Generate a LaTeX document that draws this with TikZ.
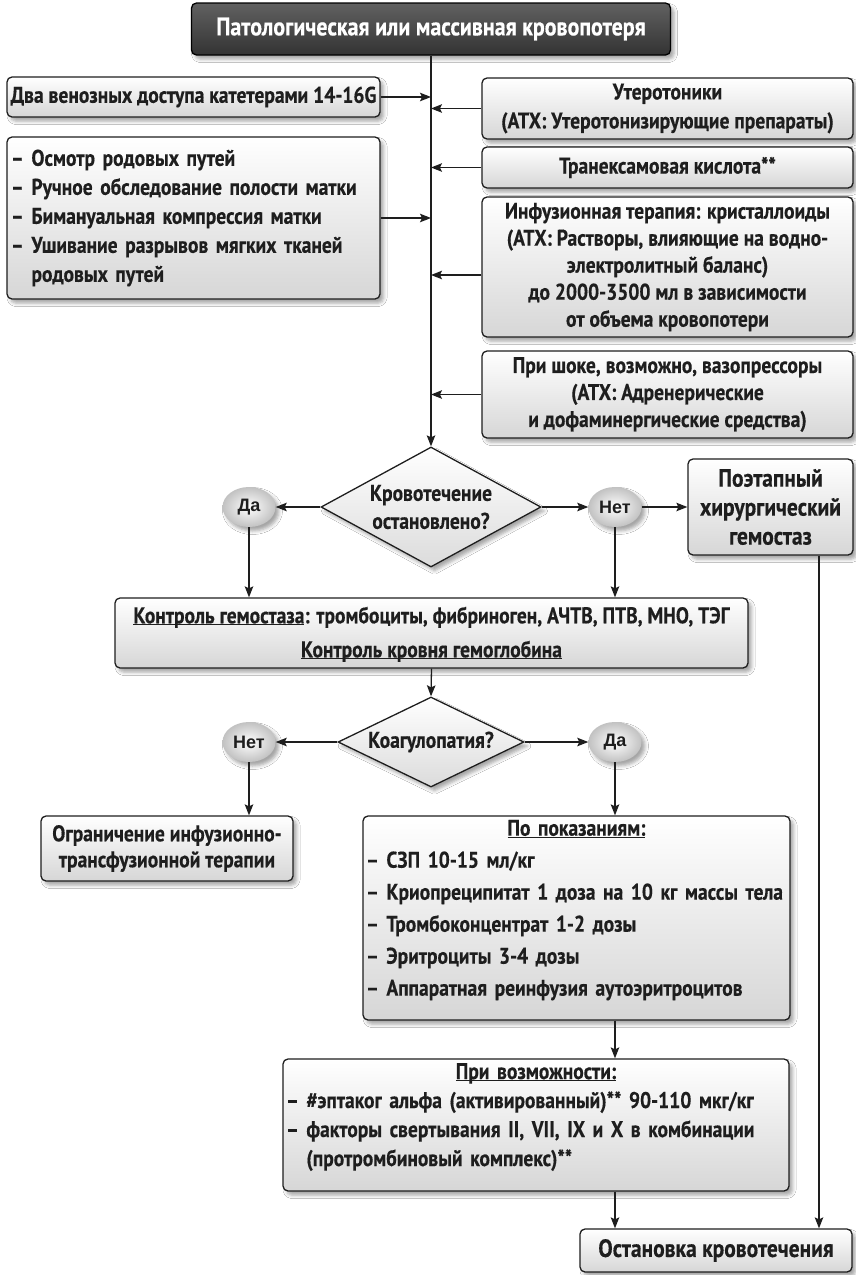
\documentclass[tikz,border=0pt]{standalone}
\usepackage{fontspec}
\newfontfamily\condfont{PT Sans}[FakeStretch=0.86, BoldFeatures={FakeBold=0.4}]
\newfontfamily\ovalfont{Liberation Sans}
\usetikzlibrary{shapes.geometric,shadows.blur,arrows.meta,calc}

\newcommand\ulx[1]{\underline{\smash{#1}}}

\definecolor{ink}{HTML}{1E1E1E}

\tikzset{
  shade soft/.style={blur shadow={shadow xshift=3.5pt,shadow yshift=-4pt,shadow blur radius=3.5pt,shadow opacity=35}},
  flow/.style={draw=ink, line width=1.3pt, rounded corners=5pt, top color=white, bottom color=black!16,
    shade soft, inner sep=0pt, text=ink, align=center},
  body/.style={font={\condfont\bfseries\fontsize{22.7}{28}\selectfont}},
  big/.style={font={\condfont\bfseries\fontsize{25}{29}\selectfont}},
  headbox/.style={draw=black, line width=1.3pt, rounded corners=5pt, top color=black!62, bottom color=black!80,
    shade soft, inner sep=0pt, text=white, font={\condfont\bfseries\fontsize{25.5}{28}\selectfont}},
  decision/.style={shape=diamond, draw=ink, line width=1.3pt, top color=white, bottom color=black!14,
    shade soft, inner sep=0pt, text=ink, align=center},
  answer/.style={shape=ellipse, minimum width=53pt, minimum height=40pt, inner sep=0pt,
    shading=radial, inner color=white, outer color=black!24, shade soft, text=ink,
    font={\ovalfont\bfseries\fontsize{18}{20}\selectfont}},
  conn/.style={draw=ink, line width=1.3pt, -{Stealth[length=11pt,width=8.5pt,inset=2pt]}},
}

\begin{document}
\begin{tikzpicture}[x=1pt,y=-1pt]
\useasboundingbox (0,0) rectangle (856,1275);
\fill[white] (0,0) rectangle (856,1275);

% top of the algorithm
\node[headbox, minimum width=479pt, minimum height=52pt] (title) at (431,29)
  {Патологическая или массивная кровопотеря};

% left column of first measures
\node[flow, body, minimum width=373pt, minimum height=40pt] (veins) at (193.5,97)
  {Два венозных доступа катетерами 14-16G};
\node[flow, minimum width=373pt, minimum height=162pt, text width=365pt, align=left,
  font={\condfont\bfseries\fontsize{22.7}{29}\selectfont}] (exam) at (193.5,218)
  {– Осмотр родовых путей\\
   – Ручное обследование полости матки\\
   – Бимануальная компрессия матки\\
   – Ушивание разрывов мягких тканей\\
   \phantom{– }родовых путей};

% right column of drugs
\node[flow, minimum width=371pt, minimum height=61pt,
  font={\condfont\bfseries\fontsize{22.7}{29}\selectfont}] (utero) at (667.5,108.5)
  {Утеротоники\\(АТХ: Утеротонизирующие препараты)};
\node[flow, body, minimum width=371pt, minimum height=41pt] (tranex) at (667.5,167.5)
  {Транексамовая кислота**};
\node[flow, minimum width=371pt, minimum height=140pt,
  font={\condfont\bfseries\fontsize{22.7}{27}\selectfont}] (infus) at (667.5,267)
  {Инфузионная терапия: кристаллоиды\\
   (АТХ: Растворы, влияющие на водно-\\
   электролитный баланс)\\
   до 2000-3500 мл в зависимости\\
   от объема кровопотери};
\node[flow, minimum width=371pt, minimum height=87pt,
  font={\condfont\bfseries\fontsize{22.7}{27}\selectfont}] (shock) at (667.5,394.5)
  {При шоке, возможно, вазопрессоры\\
   (АТХ: Адренерические\\
   и дофаминергические средства)};

% first decision
\node[decision, minimum width=220pt, minimum height=120pt, aspect=1.83,
  font={\condfont\bfseries\fontsize{22.7}{28}\selectfont}] (stopq) at (431,507)
  {Кровотечение\\остановлено?};
\node[answer] (yes1) at (249,507) {Да};
\node[answer] (no1) at (615,507) {Нет};
\node[flow, big, minimum width=165pt, minimum height=96pt] (surg) at (770.5,507)
  {Поэтапный\\хирургический\\гемостаз};

% laboratory control
\node[flow, minimum width=633pt, minimum height=70pt,
  font={\condfont\bfseries\fontsize{22.7}{34}\selectfont}] (lab) at (431.5,633)
  {\ulx{Контроль гемостаза}: тромбоциты, фибриноген, АЧТВ, ПТВ, МНО, ТЭГ\\
   \ulx{Контроль кровня гемоглобина}};

% second decision
\node[decision, body, minimum width=186pt, minimum height=90pt, aspect=2.07] (coag) at (431,742)
  {Коагулопатия?};
\node[answer] (no2) at (249,742) {Нет};
\node[answer] (yes2) at (615,742) {Да};

\node[flow, minimum width=252pt, minimum height=65pt,
  font={\condfont\bfseries\fontsize{22.7}{26}\selectfont}] (limit) at (167,848.5)
  {Ограничение инфузионно-\\трансфузионной терапии};
\node[flow, minimum width=427pt, minimum height=204pt, text width=421pt, align=left,
  font={\condfont\bfseries\fontsize{22.7}{32}\selectfont}] (indic) at (576.5,918)
  {\hfill\ulx{По показаниям:}\hfill\null\\
   – СЗП 10-15 мл/кг\\
   – Криопреципитат 1 доза на 10 кг массы тела\\
   – Тромбоконцентрат 1-2 дозы\\
   – Эритроциты 3-4 дозы\\
   – Аппаратная реинфузия аутоэритроцитов};
\node[flow, minimum width=506pt, minimum height=132pt, text width=500pt, align=left,
  font={\condfont\bfseries\fontsize{22.7}{29}\selectfont}] (possib) at (536,1125)
  {\hfill\ulx{При возможности:}\hfill\null\\
   – \#эптаког альфа (активированный)** 90-110 мкг/кг\\
   – факторы свертывания II, VII, IX и X в комбинации\\
   \phantom{– }(протромбиновый комплекс)**};
\node[flow, big, minimum width=272pt, minimum height=43pt] (stop) at (716,1250.5)
  {Остановка кровотечения};

% main spine with its side inputs
\draw[conn] (title.south) -- (stopq.north);
\draw[conn] (veins.east) -- (veins.east -| title.south);
\draw[conn] (exam.east) -- (exam.east -| title.south);
\draw[conn] (utero.west) -- (utero.west -| title.south);
\draw[conn] (tranex.west) -- (tranex.west -| title.south);
\draw[conn] ([yshift=-8pt]infus.west) -- ([yshift=-8pt]infus.west -| title.south);
\draw[conn] (shock.west) -- (shock.west -| title.south);

% first decision branches
\draw[conn] (stopq.west) -- (yes1.east);
\draw[conn] (stopq.east) -- (no1.west);
\draw[conn] (no1.east) -- (surg.west);
\draw[conn] (yes1.south) -- (yes1.south |- lab.north);
\draw[conn] (no1.south) -- (no1.south |- lab.north);
\coordinate (surgout) at ([xshift=48.5pt]surg.south);
\draw[conn] (surgout) -- (surgout |- stop.north);

% second decision branches
\draw[conn] (lab.south) -- (coag.north);
\draw[conn] (coag.west) -- (no2.east);
\draw[conn] (coag.east) -- (yes2.west);
\draw[conn] (no2.south) -- (no2.south |- limit.north);
\draw[conn] (yes2.south) -- (yes2.south |- indic.north);
\draw[conn] (yes2 |- indic.south) -- (yes2 |- possib.north);
\draw[conn] (yes2 |- possib.south) -- (yes2 |- stop.north);
\end{tikzpicture}
\end{document}
